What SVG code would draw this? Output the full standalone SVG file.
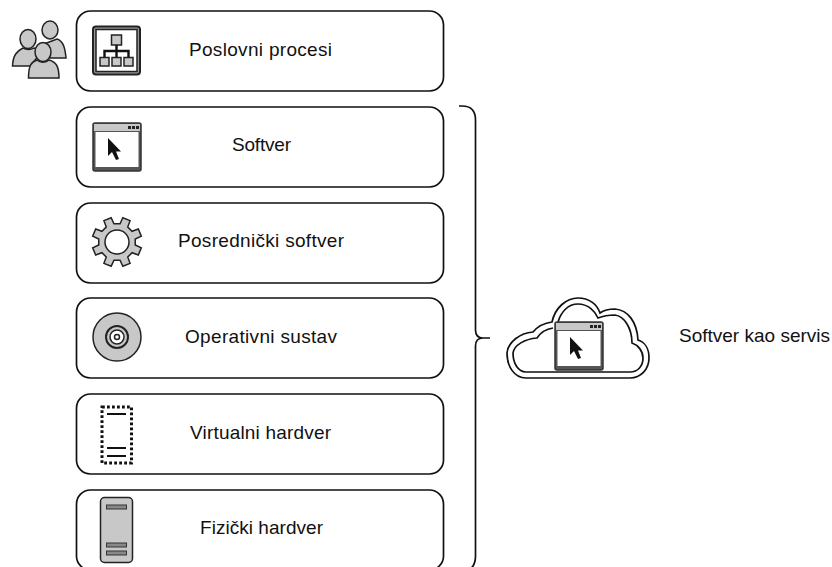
<svg xmlns="http://www.w3.org/2000/svg" width="832" height="567" viewBox="0 0 832 567">
<defs>
<style>
.box{fill:#fff;stroke:#111;stroke-width:1.7}
.t{font-family:"Liberation Sans",Arial,sans-serif;font-size:19px;fill:#111;text-anchor:middle}
.g{fill:#c8c8c8;stroke:#222;stroke-width:1.5}
.k{fill:none;stroke:#111;stroke-width:1.7}
</style>
<g id="win">
<rect x="0" y="0" width="48" height="48" rx="2" fill="#555" stroke="#333" stroke-width="1.500"/>
<rect x="1" y="1" width="46" height="7" fill="#c8c8c8"/>
<rect x="2.500" y="9" width="43" height="35" fill="#fff"/>
<rect x="35" y="3" width="3" height="3" fill="#222"/><rect x="39" y="3" width="3" height="3" fill="#222"/><rect x="43" y="3" width="3" height="3" fill="#222"/>
<path d="M15 15V33L19 29L23 37L26 36L23 28.500H28Z" fill="#111"/>
</g>
</defs>
<g id="connectors">
<path class="k" d="M459 106H462C471 106 475.500 111 475.500 120V330C475.500 335 478 338 483 338H490H483C478 338 475.500 341 475.500 346V556C475.500 566 470 572 459 572"/>
</g>
<g id="n1"><rect class="box" x="76.500" y="11" width="367" height="80" rx="14"/><text class="t" x="260.500" y="55.500" textLength="143">Poslovni procesi</text>
<rect x="93" y="26.500" width="47" height="48" rx="3" fill="#999" stroke="#222" stroke-width="2"/><rect x="96" y="29.500" width="41" height="42" fill="#fff" stroke="#222" stroke-width="1.500"/>
<rect class="g" x="111.500" y="35" width="10" height="10"/><path class="k" d="M116.500 45V51M104.500 57V51H128.500V57M116.500 51V57" style="stroke-width:2.400"/>
<rect class="g" x="100" y="57.500" width="9" height="8.500"/><rect class="g" x="112" y="57.500" width="9" height="8.500"/><rect class="g" x="124" y="57.500" width="9" height="8.500"/></g>
<g id="users">
<path class="g" d="M57 39C63 41 65 47 66 58H50L44 44Z"/><ellipse class="g" cx="50" cy="30" rx="8" ry="9"/>
<path class="g" d="M12.500 66C13 55 17 51 23 48C26 50 31 50 34 48C38 49 40 50 41 53L30 66Z"/><ellipse class="g" cx="28" cy="39" rx="8" ry="9.500"/>
<path class="g" d="M28.500 78C28.500 66 31 62 37 60C40 63 46 63 49 60C56 62 59 66 59 78Z"/><ellipse class="g" cx="43" cy="52" rx="8" ry="9.500"/>
</g>
<g id="n2"><rect class="box" x="76.500" y="107" width="367" height="80" rx="14"/><text class="t" x="261.500" y="151" textLength="59">Softver</text><use href="#win" x="93" y="123"/></g>
<g id="n3"><rect class="box" x="76.500" y="203" width="367" height="80" rx="14"/><text class="t" x="261" y="247" textLength="166">Posrednički softver</text>
<path class="g" d="M120.050 223.760L122.840 217.690L130.060 220.680L127.740 226.940L132.060 231.260L138.320 228.940L141.310 236.160L135.240 238.950V245.050L141.310 247.840L138.320 255.060L132.060 252.740L127.740 257.060L130.060 263.320L122.840 266.310L120.050 260.240H113.950L111.160 266.310L103.940 263.320L106.260 257.060L101.940 252.740L95.680 255.060L92.690 247.840L98.760 245.050V238.950L92.690 236.160L95.680 228.940L101.940 231.260L106.260 226.940L103.940 220.680L111.160 217.690L113.950 223.760Z"/>
<circle cx="117" cy="242" r="12" fill="#fff" stroke="#222" stroke-width="1.500"/></g>
<g id="n4"><rect class="box" x="76.500" y="298" width="367" height="80" rx="14"/><text class="t" x="261" y="342.500" textLength="152">Operativni sustav</text>
<circle class="g" cx="117" cy="337" r="24"/><circle cx="117" cy="337" r="11" fill="#c8c8c8" stroke="#222" stroke-width="2"/><circle cx="117" cy="337" r="7" fill="#fff" stroke="#222" stroke-width="1.500"/><circle cx="117" cy="337" r="2.500" fill="#fff" stroke="#222" stroke-width="1.500"/></g>
<g id="n5"><rect class="box" x="76.500" y="394" width="367" height="80" rx="14"/><text class="t" x="260.500" y="438.500" textLength="141">Virtualni hardver</text>
<rect x="102" y="407" width="29.500" height="56" fill="none" stroke="#111" stroke-width="3" stroke-dasharray="2.800 2.200"/>
<path d="M107 414H126M107 448H126M107 456H126" stroke="#111" stroke-width="2.200" fill="none"/></g>
<g id="n6"><rect class="box" x="76.500" y="490" width="367" height="80" rx="14"/><text class="t" x="261.500" y="533.500" textLength="123">Fizički hardver</text>
<rect class="g" x="100.500" y="497.500" width="32" height="65" rx="4"/>
<rect x="106.500" y="505" width="20" height="4" fill="#888" stroke="#333"/><rect x="106.500" y="543" width="20" height="4" fill="#888" stroke="#333"/><rect x="106.500" y="551" width="20" height="4" fill="#888" stroke="#333"/></g>
<g id="cloud">
<path class="k" d="M526 378C514 378 507 366 507 353C508 342 520 333 533 332C538 326 544 323 552 322C555 308 566 298 578 298C589 298 597 304 600 313C604 310 610 309 615 309C628 310 637 322 638 340C645 342 649 349 649 358C649 369 641 378 630 378Z" fill="#fff"/>
<path class="k" d="M526 372C518 372 513 363 513 353C514 345 525 339 537 338C541 332 546 329 553 328M558 322C561 312 568 304 578 304C588 304 595 311 598 318C603 316 609 315 615 315C624 316 632 328 632 343C638 345 643 351 643 358C643 366 638 372 630 372H526"/>
<use href="#win" x="555" y="322"/>
</g>
<text id="label" class="t" x="754.500" y="342" textLength="151">Softver kao servis</text>
</svg>
